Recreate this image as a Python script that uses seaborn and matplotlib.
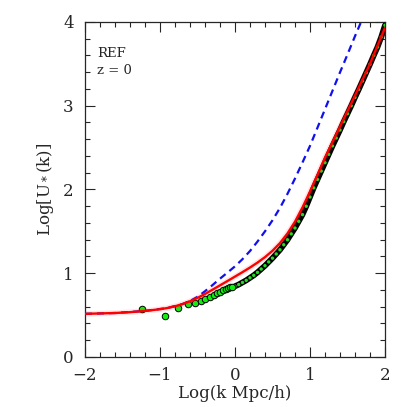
import numpy as np
import pandas as pd
import seaborn as sns
import matplotlib.pyplot as plt
from matplotlib.ticker import MultipleLocator

# measured points, sparse low-k part (log k, log U*)
logk_sparse = [-1.244, -0.933, -0.756, -0.631, -0.533, -0.455, -0.395,
               -0.337, -0.286, -0.240, -0.199, -0.161, -0.126, -0.094,
               -0.064, -0.036]
logu_sparse = [0.573, 0.490, 0.589, 0.633, 0.640, 0.670, 0.690,
               0.715, 0.740, 0.765, 0.780, 0.800, 0.810, 0.820,
               0.830, 0.838]

# measured points, dense high-k part
logk_dense = [0.00, 0.05, 0.10, 0.15, 0.20, 0.25, 0.30, 0.35, 0.40, 0.45,
              0.50, 0.55, 0.60, 0.65, 0.70, 0.75, 0.80, 0.85, 0.90, 0.95,
              1.00, 1.05, 1.10, 1.15, 1.20, 1.25, 1.30, 1.35, 1.40, 1.45,
              1.50, 1.55, 1.60, 1.65, 1.70, 1.75, 1.80, 1.85, 1.90, 1.95,
              2.00]
logu_dense = [0.845, 0.865, 0.890, 0.915, 0.945, 0.975, 1.010, 1.050, 1.090, 1.135,
              1.180, 1.230, 1.280, 1.340, 1.400, 1.470, 1.540, 1.620, 1.700, 1.800,
              1.910, 2.020, 2.120, 2.220, 2.320, 2.420, 2.520, 2.615, 2.710, 2.810,
              2.905, 3.000, 3.100, 3.195, 3.295, 3.395, 3.495, 3.600, 3.700, 3.820,
              3.960]

# model curve (red)
logk_model = [-2.0, -1.8, -1.6, -1.4, -1.2, -1.0, -0.9, -0.8, -0.7, -0.6,
              -0.5, -0.4, -0.3, -0.2, -0.1, 0.0, 0.1, 0.2, 0.3, 0.4,
              0.5, 0.6, 0.7, 0.8, 0.9, 1.0, 1.1, 1.2, 1.4, 1.6,
              1.8, 2.0]
logu_model = [0.515, 0.520, 0.525, 0.535, 0.550, 0.570, 0.585, 0.605, 0.632, 0.665,
              0.705, 0.752, 0.803, 0.855, 0.907, 0.960, 1.013, 1.068, 1.127, 1.192,
              1.268, 1.360, 1.475, 1.615, 1.785, 1.975, 2.175, 2.380, 2.750, 3.120,
              3.500, 3.930]

# linear curve (blue dashed)
logk_lin = [-2.0, -1.6, -1.2, -0.9, -0.7, -0.6, -0.5, -0.4, -0.3, -0.2,
            -0.1, 0.0, 0.1, 0.2, 0.3, 0.4, 0.5, 0.6, 0.7, 0.8,
            0.9, 1.0, 1.1, 1.2, 1.3, 1.4, 1.5, 1.6, 1.7]
logu_lin = [0.515, 0.525, 0.550, 0.585, 0.632, 0.668, 0.718, 0.785, 0.858, 0.935,
            1.008, 1.082, 1.168, 1.265, 1.378, 1.500, 1.632, 1.780, 1.948, 2.130,
            2.322, 2.520, 2.738, 2.958, 3.178, 3.398, 3.612, 3.830, 4.040]

sparse = pd.DataFrame({"logk": logk_sparse, "logu": logu_sparse})
dense = pd.DataFrame({"logk": logk_dense, "logu": logu_dense})
model = pd.DataFrame({"logk": logk_model, "logu": logu_model})
lin = pd.DataFrame({"logk": logk_lin, "logu": logu_lin})

sns.set_style("ticks")
plt.rcParams["font.family"] = ["DejaVu Serif"]
plt.rcParams["mathtext.fontset"] = "dejavuserif"

fig = plt.figure(figsize=(4.07, 4.07), dpi=100)
ax = fig.add_axes([0.2088, 0.1229, 0.7371, 0.8231])

sns.lineplot(data=lin, x="logk", y="logu", ax=ax, color="#1010ee",
             lw=1.6, estimator=None, sort=False,
             linestyle=(0, (3.2, 2.2)), zorder=2)

sns.lineplot(data=dense, x="logk", y="logu", ax=ax, color="black",
             lw=4.2, estimator=None, sort=False, zorder=3)
sns.scatterplot(data=dense, x="logk", y="logu", ax=ax, color="#22dd22",
                s=6, edgecolor="none", zorder=4)
sns.scatterplot(data=sparse, x="logk", y="logu", ax=ax, color="#11ee11",
                s=22, edgecolor="black", linewidth=0.7, zorder=4)

sns.lineplot(data=model, x="logk", y="logu", ax=ax, color="red",
             lw=4.0, alpha=0.1, estimator=None, sort=False, zorder=5)
sns.lineplot(data=model, x="logk", y="logu", ax=ax, color="red",
             lw=1.7, estimator=None, sort=False, zorder=6)

ax.set_xlim(-2, 2)
ax.set_ylim(0, 4)
ax.xaxis.set_major_locator(MultipleLocator(1))
ax.xaxis.set_minor_locator(MultipleLocator(0.2))
ax.yaxis.set_major_locator(MultipleLocator(1))
ax.yaxis.set_minor_locator(MultipleLocator(0.2))
ax.tick_params(which="both", direction="in", top=True, right=True,
               width=0.8, labelsize=12)
ax.tick_params(which="major", length=7)
ax.tick_params(which="minor", length=3.6)
ax.tick_params(axis="x", pad=7)
ax.tick_params(axis="y", pad=8)
for s in ax.spines.values():
    s.set_linewidth(0.9)

ax.set_xlabel("Log(k Mpc/h)", fontsize=12, labelpad=1)
ax.set_ylabel("Log[U$_*$(k)]", fontsize=12, labelpad=5)

ax.text(0.04, 0.905, "REF", transform=ax.transAxes, fontsize=9.5, va="center")
ax.text(0.04, 0.855, "z = 0", transform=ax.transAxes, fontsize=9.5, va="center")

plt.savefig("out.png", dpi=100)
